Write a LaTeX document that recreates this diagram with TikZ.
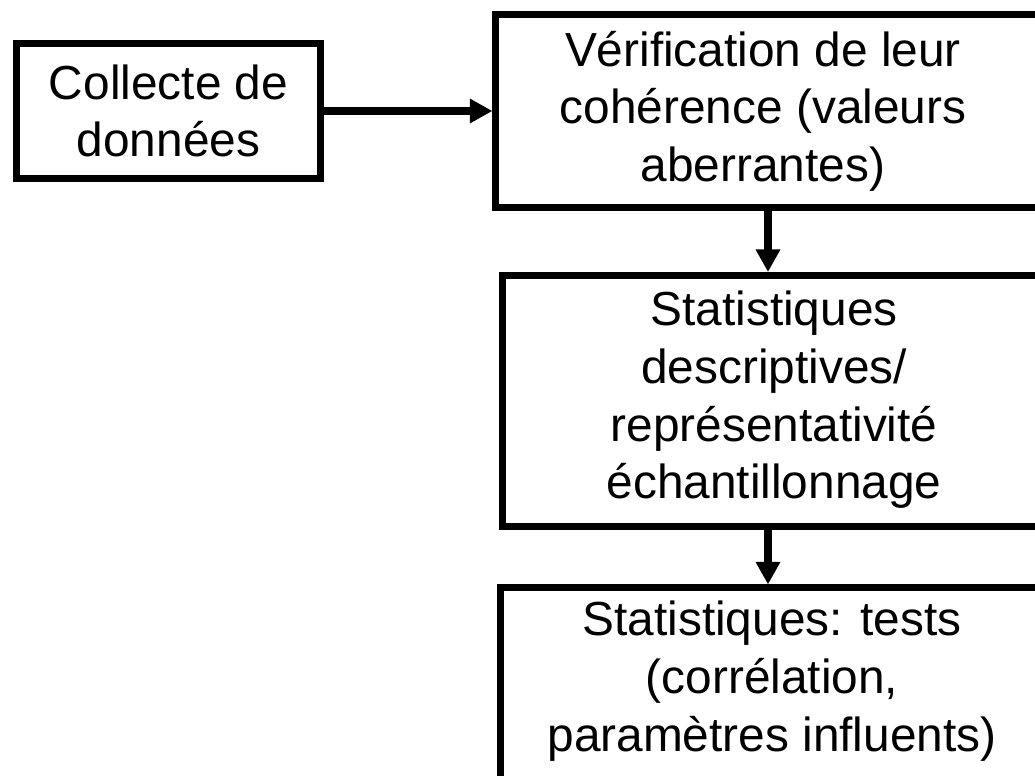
\documentclass[tikz,border=0pt]{standalone}
\usepackage{fontspec}
\setmainfont{Liberation Sans}
\usetikzlibrary{arrows.meta}
\usetikzlibrary{positioning}

\begin{document}
\begin{tikzpicture}[x=0.025cm,y=-0.025cm,
  stage/.style={draw,line width=5pt,rectangle,inner sep=0pt},
  stagetext/.style={align=center,inner sep=0pt,font=\fontsize{34}{41}\selectfont},
  flow/.style={line width=5.7pt,-{Triangle[length=16pt,width=16.5pt]}}]
\useasboundingbox (0,0) rectangle (1035,776);
\clip (0,0) rectangle (1035,776);

  \node[stage,minimum width=7.575cm,minimum height=3.35cm] (collect) at (168.5,111) {};
  \node[stage,minimum width=13.6cm,minimum height=4.8125cm] (check) at (768,110.75) {};
  \node[stage,minimum width=13.45cm,minimum height=6.2625cm] (descr) at (772,400.75) {};
  \node[stage,minimum width=13.5cm,minimum height=6.05cm] (tests) at (771,709) {};

  \node[stagetext] (collecttxt) at (collect) {Collecte de\\données};
  \node[stagetext] (checktxt) at (763,111) {Vérification de leur\\cohérence (valeurs\\aberrantes)};
  \node[stagetext] (descrtxt) at (774,400) {Statistiques\\descriptives/\\représentativité\\échantillonnage};
  \node[stagetext] (teststxt) at (772,681) {Statistiques: tests\\(corrélation,\\paramètres influents)};

  \draw[flow] (collect.east) -- (collect.east -| check.west);
  \draw[flow] (check.south) -- (check.south |- descr.north);
  \draw[flow] (descr.south -| check.south) -- (tests.north -| check.south);

\end{tikzpicture}
\end{document}
